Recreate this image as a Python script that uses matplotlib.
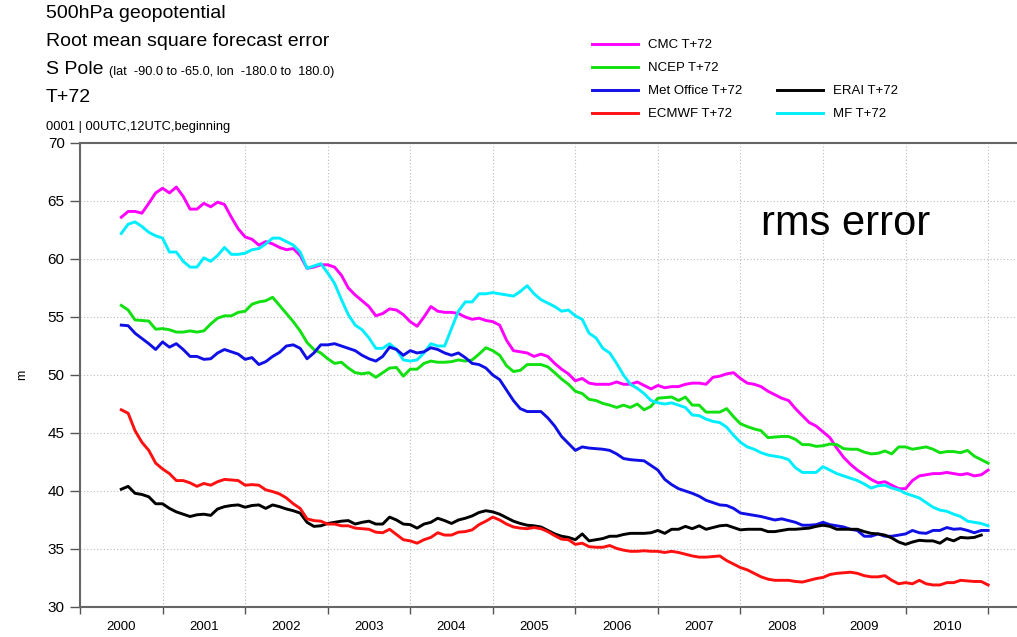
import numpy as np
import matplotlib
matplotlib.use("Agg")
import matplotlib.pyplot as plt
from matplotlib.lines import Line2D

plt.rcParams['font.family'] = ['Liberation Sans', 'DejaVu Sans']

# monthly running values, Jul 2000 .. Jan 2011
months = np.arange(127)
t = 2000.5 + months / 12.0

cmc = [63.6, 64.1, 64.1, 63.95, 64.8, 65.7, 66.1, 65.7, 66.2, 65.4,
       64.3, 64.3, 64.8, 64.5, 64.9, 64.7, 63.6, 62.6, 61.9, 61.7,
       61.2, 61.5, 61.3, 61.0, 60.8, 60.9, 60.3, 59.2, 59.3, 59.5,
       59.5, 59.3, 58.6, 57.5, 56.9, 56.4, 55.9, 55.1, 55.3, 55.7,
       55.6, 55.2, 54.6, 54.2, 55.0, 55.9, 55.5, 55.4, 55.4, 55.3,
       55.0, 54.8, 54.9, 54.7, 54.6, 54.3, 53.0, 52.1, 52.0, 51.9,
       51.6, 51.8, 51.6, 51.0, 50.5, 50.1, 49.5, 49.7, 49.3, 49.2,
       49.2, 49.2, 49.4, 49.2, 49.2, 49.4, 49.1, 48.8, 49.1, 48.9,
       49.0, 49.0, 49.2, 49.3, 49.3, 49.2, 49.8, 49.9, 50.1, 50.2,
       49.7, 49.3, 49.2, 49.0, 48.6, 48.3, 48.0, 47.8, 47.1, 46.5,
       45.9, 45.6, 45.1, 44.6, 43.7, 42.9, 42.3, 41.8, 41.4, 41.0,
       40.7, 40.8, 40.5, 40.2, 40.2, 40.9, 41.3, 41.4, 41.5, 41.5,
       41.6, 41.5, 41.4, 41.5, 41.3, 41.4, 41.8]

ncep = [56.0, 55.6, 54.75, 54.7, 54.65, 53.95, 54.0, 53.9, 53.7, 53.7,
        53.8, 53.7, 53.8, 54.4, 54.9, 55.1, 55.1, 55.4, 55.5, 56.1,
        56.3, 56.4, 56.7, 56.0, 55.3, 54.6, 53.8, 52.8, 52.2, 51.9,
        51.4, 51.0, 51.1, 50.6, 50.2, 50.1, 50.2, 49.8, 50.2, 50.6,
        50.65, 49.9, 50.5, 50.5, 51.0, 51.2, 51.1, 51.1, 51.15, 51.3,
        51.2, 51.3, 51.8, 52.35, 52.1, 51.7, 50.8, 50.3, 50.4, 50.9,
        50.9, 50.9, 50.7, 50.2, 49.65, 49.2, 48.6, 48.4, 47.9, 47.8,
        47.55, 47.4, 47.2, 47.4, 47.2, 47.5, 47.0, 47.3, 48.0, 48.05,
        48.1, 47.8, 48.1, 47.4, 47.4, 46.8, 46.8, 46.8, 47.1, 46.4,
        45.8, 45.55, 45.35, 45.2, 44.6, 44.65, 44.7, 44.7, 44.45, 44.0,
        44.0, 43.85, 43.9, 44.05, 44.0, 43.65, 43.6, 43.6, 43.35, 43.2,
        43.25, 43.45, 43.2, 43.8, 43.8, 43.6, 43.7, 43.8, 43.6, 43.3,
        43.4, 43.4, 43.3, 43.5, 43.0, 42.7, 42.4]

metoffice = [54.3, 54.25, 53.6, 53.15, 52.7, 52.2, 52.85, 52.4, 52.7, 52.2,
             51.6, 51.6, 51.35, 51.4, 51.9, 52.2, 52.0, 51.8, 51.35, 51.5,
             50.9, 51.15, 51.6, 51.95, 52.5, 52.6, 52.3, 51.4, 51.9, 52.6,
             52.6, 52.7, 52.5, 52.3, 52.1, 51.7, 51.4, 51.2, 51.6, 52.4,
             52.2, 51.7, 52.1, 51.9, 52.0, 52.35, 52.2, 51.9, 51.7, 51.9,
             51.5, 51.0, 50.9, 50.6, 50.0, 49.6, 48.7, 47.8, 47.1, 46.85,
             46.85, 46.85, 46.3, 45.6, 44.7, 44.1, 43.5, 43.8, 43.7, 43.65,
             43.6, 43.5, 43.2, 42.8, 42.7, 42.65, 42.6, 42.2, 41.8, 41.0,
             40.55, 40.2, 40.0, 39.8, 39.55, 39.2, 39.0, 38.8, 38.75, 38.5,
             38.1, 38.0, 37.9, 37.8, 37.65, 37.5, 37.6, 37.45, 37.3, 37.05,
             37.05, 37.1, 37.3, 37.1, 37.0, 36.9, 36.7, 36.6, 36.1, 36.1,
             36.3, 36.1, 36.1, 36.2, 36.3, 36.6, 36.4, 36.35, 36.6, 36.6,
             36.85, 36.7, 36.75, 36.6, 36.4, 36.6, 36.6]

ecmwf = [47.0, 46.7, 45.2, 44.2, 43.5, 42.4, 41.9, 41.5, 40.9, 40.9,
         40.7, 40.4, 40.65, 40.5, 40.8, 41.0, 40.95, 40.9, 40.5, 40.55,
         40.5, 40.1, 39.95, 39.75, 39.4, 38.9, 38.5, 37.6, 37.45, 37.4,
         37.15, 37.15, 37.0, 37.0, 36.8, 36.75, 36.7, 36.45, 36.4, 36.7,
         36.25, 35.8, 35.7, 35.5, 35.8, 36.0, 36.4, 36.2, 36.2, 36.45,
         36.5, 36.65, 37.1, 37.4, 37.75, 37.5, 37.15, 36.9, 36.8, 36.75,
         36.85, 36.75, 36.5, 36.15, 35.85, 35.8, 35.4, 35.5, 35.2, 35.15,
         35.15, 35.3, 35.05, 34.9, 34.8, 34.8, 34.85, 34.8, 34.8, 34.7,
         34.8, 34.7, 34.55, 34.4, 34.3, 34.3, 34.35, 34.4, 34.0, 33.7,
         33.4, 33.2, 32.9, 32.6, 32.4, 32.3, 32.3, 32.3, 32.2, 32.15,
         32.3, 32.45, 32.55, 32.8, 32.9, 32.95, 33.0, 32.9, 32.7, 32.6,
         32.6, 32.7, 32.3, 32.0, 32.1, 32.0, 32.3, 32.0, 31.9, 31.9,
         32.1, 32.1, 32.3, 32.25, 32.2, 32.2, 31.9]

erai = [40.15, 40.4, 39.8, 39.7, 39.5, 38.9, 38.9, 38.5, 38.2, 38.0,
        37.8, 37.95, 38.0, 37.9, 38.45, 38.65, 38.75, 38.8, 38.6, 38.75,
        38.8, 38.5, 38.8, 38.65, 38.45, 38.3, 38.1, 37.3, 36.95, 37.0,
        37.2, 37.3, 37.4, 37.45, 37.15, 37.3, 37.4, 37.15, 37.15, 37.75,
        37.5, 37.15, 37.1, 36.8, 37.15, 37.3, 37.65, 37.45, 37.2, 37.5,
        37.65, 37.85, 38.15, 38.3, 38.2, 38.0, 37.7, 37.4, 37.2, 37.05,
        37.0, 36.9, 36.6, 36.3, 36.1, 36.0, 35.8, 36.3, 35.7, 35.8,
        35.9, 36.1, 36.1, 36.25, 36.35, 36.35, 36.35, 36.4, 36.6, 36.35,
        36.7, 36.7, 36.95, 36.75, 37.0, 36.7, 36.85, 37.0, 37.05, 36.85,
        36.65, 36.7, 36.7, 36.7, 36.5, 36.5, 36.6, 36.7, 36.7, 36.75,
        36.8, 36.95, 37.05, 36.95, 36.7, 36.7, 36.7, 36.7, 36.5, 36.35,
        36.3, 36.2, 35.95, 35.6, 35.4, 35.6, 35.75, 35.7, 35.7, 35.5,
        35.9, 35.7, 36.0, 35.95, 36.0, 36.2]

mf = [62.2, 63.0, 63.2, 62.8, 62.3, 62.0, 61.8, 60.6, 60.6, 59.8,
      59.3, 59.3, 60.1, 59.8, 60.3, 61.0, 60.4, 60.4, 60.5, 60.8,
      60.9, 61.3, 61.8, 61.8, 61.5, 61.2, 60.6, 59.2, 59.4, 59.6,
      58.8, 57.9, 56.5, 55.2, 54.3, 53.9, 53.2, 52.3, 52.3, 52.7,
      52.2, 51.3, 51.2, 51.3, 51.9, 52.7, 52.5, 52.5, 54.0, 55.5,
      56.3, 56.3, 57.0, 57.0, 57.1, 57.0, 56.9, 56.8, 57.2, 57.7,
      57.0, 56.5, 56.2, 55.9, 55.5, 55.6, 55.1, 54.8, 53.6, 53.2,
      52.3, 51.9, 51.0, 50.0, 49.2, 48.85, 48.4, 47.8, 47.6, 47.5,
      47.6, 47.4, 47.2, 46.55, 46.5, 46.2, 46.0, 45.9, 45.5, 44.8,
      44.2, 43.8, 43.6, 43.3, 43.1, 43.0, 42.9, 42.7, 42.0, 41.6,
      41.6, 41.6, 42.1, 41.8, 41.5, 41.3, 41.1, 40.9, 40.6, 40.25,
      40.45, 40.5, 40.25, 40.1, 39.8, 39.6, 39.4, 39.0, 38.6, 38.35,
      38.25, 38.0, 37.8, 37.4, 37.3, 37.2, 37.0]

year_labels = [str(y) for y in range(2000, 2011)]
y_ticks = [30, 35, 40, 45, 50, 55, 60, 65, 70]

fig = plt.figure(figsize=(10.17, 6.37), dpi=100)
ax = fig.add_axes([80 / 1017, 30 / 637, 1 - 80 / 1017, (607 - 143) / 637])

lw = 2.1
ax.plot(t, cmc, color='#ff00ff', lw=lw, label='CMC T+72')
ax.plot(t, ncep, color='#11e011', lw=lw, label='NCEP T+72')
ax.plot(t, mf, color='#00eeff', lw=lw, label='MF T+72')
ax.plot(t, metoffice, color='#1010e6', lw=lw, label='Met Office T+72')
ax.plot(t[:len(erai)], erai, color='black', lw=lw, label='ERAI T+72')
ax.plot(t, ecmwf, color='#ff1010', lw=lw, label='ECMWF T+72')

ax.set_xlim(2000, 2011.35)
ax.set_ylim(30, 70)
ax.set_xticks(np.arange(2000, 2012))
ax.set_xticklabels([])
ax.set_xticks(np.arange(2000, 2011) + 0.5, minor=True)
ax.set_xticklabels(year_labels, minor=True, fontsize=9.5)
ax.tick_params(axis='x', which='minor', length=0, pad=10)
ax.tick_params(axis='x', which='major', length=5, width=1, color='#555555', direction='out')
ax.set_yticks(y_ticks)
ax.tick_params(axis='y', length=7, width=1, color='#555555', labelsize=11, pad=4)

ax.grid(True, which='major', color='#bbbbbb', lw=0.8, linestyle=(0, (1, 2)))
ax.set_axisbelow(True)
for side in ['left', 'bottom', 'top']:
    ax.spines[side].set_color('#666666')
    ax.spines[side].set_linewidth(1.5)
ax.spines['right'].set_visible(False)

ax.set_ylabel('m', fontsize=9, labelpad=14)

ax.text(0.727, 0.825, 'rms error', transform=ax.transAxes, fontsize=30, va='center')

# header
fig.text(46 / 1017, 1 - 14 / 637, '500hPa geopotential', fontsize=14, va='center')
fig.text(46 / 1017, 1 - 42 / 637, 'Root mean square forecast error', fontsize=14, va='center')
fig.text(46 / 1017, 1 - 70 / 637, 'S Pole', fontsize=14, va='center')
fig.text(109 / 1017, 1 - 72 / 637, '(lat  -90.0 to -65.0, lon  -180.0 to  180.0)',
         fontsize=9.2, va='center')
fig.text(46 / 1017, 1 - 97 / 637, 'T+72', fontsize=14, va='center')
fig.text(46 / 1017, 1 - 127 / 637, '0001 | 00UTC,12UTC,beginning', fontsize=9.3, va='center')

# legend: two columns, second one only has ERAI and MF at the bottom
h = {l.get_label(): l for l in ax.get_lines()}
blank = Line2D([], [], color='none')
handles = [h['CMC T+72'], h['NCEP T+72'], h['Met Office T+72'], h['ECMWF T+72'],
           blank, blank, h['ERAI T+72'], h['MF T+72']]
labels = ['CMC T+72', 'NCEP T+72', 'Met Office T+72', 'ECMWF T+72',
          '', '', 'ERAI T+72', 'MF T+72']
fig.legend(handles, labels, ncol=2, loc='upper left',
           bbox_to_anchor=(592 / 1017, 1 - 39 / 637), frameon=False,
           fontsize=9.5, handlelength=3.5, handletextpad=0.75,
           columnspacing=2.6, labelspacing=0.82, borderpad=0, borderaxespad=0)

fig.savefig('out.png', dpi=100)
